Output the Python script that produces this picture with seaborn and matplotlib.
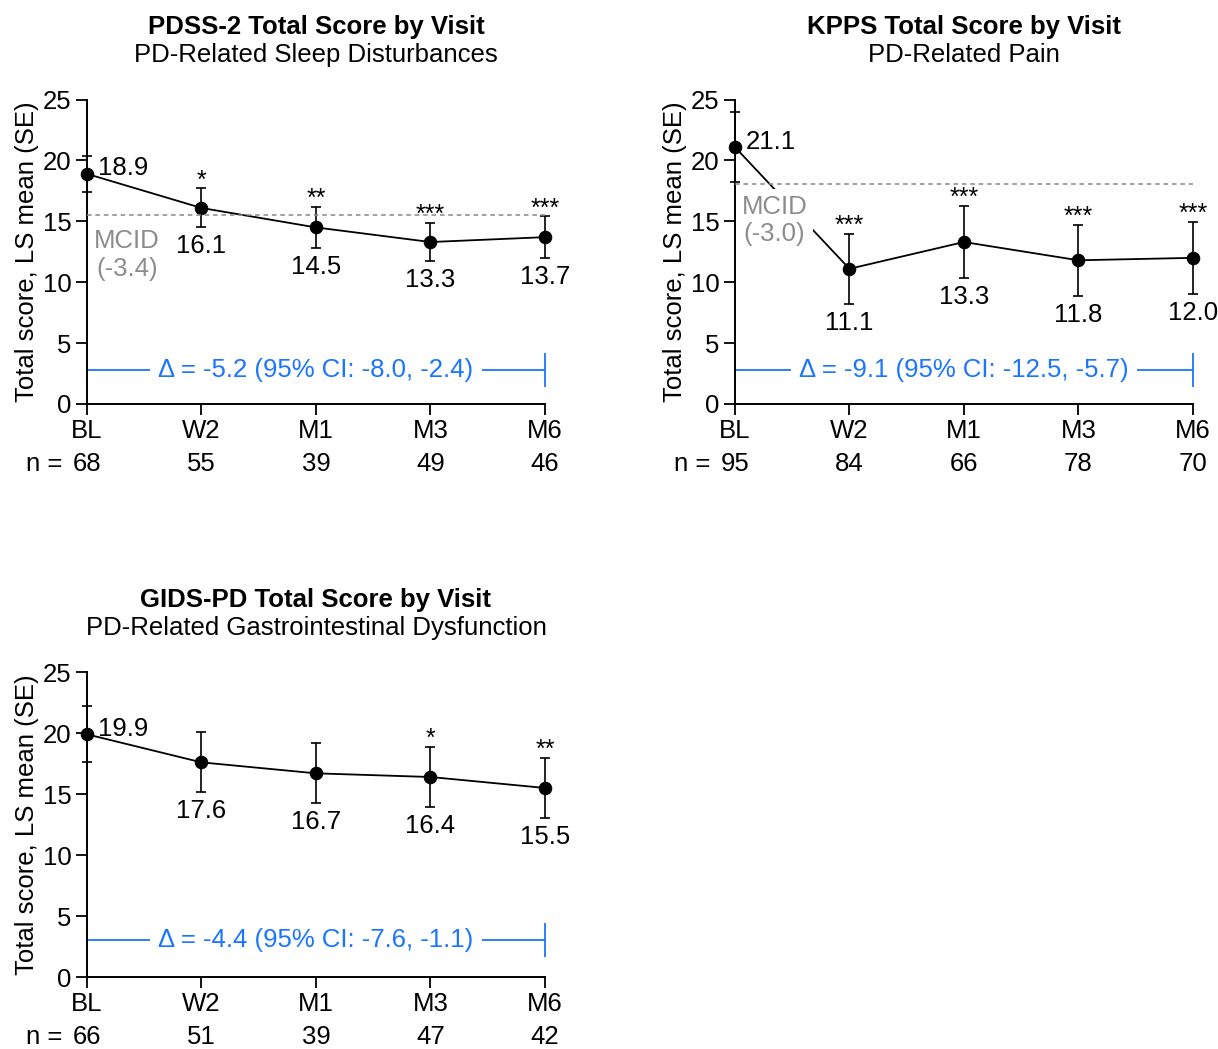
import numpy as np
import pandas as pd
import matplotlib.pyplot as plt
import seaborn as sns

# visits on the x axis
visits = ["BL", "W2", "M1", "M3", "M6"]

# PDSS-2
pdss_mean = [18.9, 16.1, 14.5, 13.3, 13.7]
pdss_se = [1.5, 1.6, 1.7, 1.6, 1.7]
pdss_n = [68, 55, 39, 49, 46]
pdss_stars = ["", "*", "**", "***", "***"]
pdss_delta = "Δ = -5.2 (95% CI: -8.0, -2.4)"
pdss_mcid = 3.4

# KPPS
kpps_mean = [21.1, 11.1, 13.3, 11.8, 12.0]
kpps_se = [2.9, 2.9, 2.95, 2.9, 2.95]
kpps_n = [95, 84, 66, 78, 70]
kpps_stars = ["", "***", "***", "***", "***"]
kpps_delta = "Δ = -9.1 (95% CI: -12.5, -5.7)"
kpps_mcid = 3.0

# GIDS-PD
gids_mean = [19.9, 17.6, 16.7, 16.4, 15.5]
gids_se = [2.3, 2.45, 2.45, 2.45, 2.45]
gids_n = [66, 51, 39, 47, 42]
gids_stars = ["", "", "", "*", "**"]
gids_delta = "Δ = -4.4 (95% CI: -7.6, -1.1)"

sns.set_theme(style="ticks")
plt.rcParams['font.family'] = ['Liberation Sans', 'DejaVu Sans']
plt.rcParams['text.color'] = 'black'
plt.rcParams['axes.labelcolor'] = 'black'
plt.rcParams['xtick.color'] = 'black'
plt.rcParams['ytick.color'] = 'black'

BLUE = "#1a75ff"
GREY = "#8c8c8c"
FS = 18.5


def draw(ax, title, subtitle, mean, se, n, stars, delta, delta_y, mcid=None, mcid_pos=None):
    x = np.arange(len(visits))
    df = pd.DataFrame({"visit": x, "mean": mean})
    sns.lineplot(data=df, x="visit", y="mean", color="black", lw=1.3, marker="o",
                 markersize=9, markeredgecolor="black", ax=ax, clip_on=False, zorder=2)
    eb = ax.errorbar(x, mean, yerr=se, fmt="none", ecolor="black", elinewidth=1.2,
                     capsize=3.5, capthick=1.2, zorder=2)
    for a in list(eb.lines[1]) + list(eb.lines[2]):
        a.set_clip_on(False)

    ax.set_xlim(0, 4)
    ax.set_ylim(0, 25)
    ax.set_xticks(x, visits)
    ax.set_yticks(range(0, 26, 5))
    ax.tick_params(length=8, width=1.3, labelsize=FS, pad=3, color="black")
    for s in ["top", "right"]:
        ax.spines[s].set_visible(False)
    for s in ["left", "bottom"]:
        ax.spines[s].set_linewidth(1.4)
        ax.spines[s].set_color("black")
    ax.set_xlabel("")
    ax.set_ylabel("Total score, LS mean (SE)", fontsize=FS, labelpad=3)

    # value labels
    for i in range(len(x)):
        if i == 0:
            ax.annotate(f"{mean[i]:.1f}", (x[i], mean[i]), xytext=(8, 4),
                        textcoords="offset points", ha="left", va="center", fontsize=FS)
        else:
            ax.annotate(f"{mean[i]:.1f}", (x[i], mean[i] - se[i]), xytext=(0, -5),
                        textcoords="offset points", ha="center", va="top", fontsize=FS)
        if stars[i]:
            ax.annotate(stars[i], (x[i], mean[i] + se[i]), xytext=(0, -3),
                        textcoords="offset points", ha="center", va="bottom", fontsize=18)

    # n row
    for i in range(len(x)):
        ax.annotate(str(n[i]), (x[i], 0), xycoords=("data", "axes fraction"),
                    xytext=(0, -43.5), textcoords="offset points", ha="center", va="center",
                    fontsize=FS, annotation_clip=False)
    ax.annotate("n =", (0, 0), xycoords=("data", "axes fraction"), xytext=(-18, -43.5),
                textcoords="offset points", ha="right", va="center", fontsize=FS,
                annotation_clip=False)

    # treatment difference
    ax.hlines(delta_y, 0, 4, color=BLUE, lw=1.3, zorder=1, clip_on=False)
    ax.plot([4], [delta_y], marker="|", markersize=24, mew=1.3, color=BLUE, clip_on=False)
    ax.text(2, delta_y, delta, color=BLUE, fontsize=FS, ha="center", va="center", zorder=3,
            bbox=dict(facecolor="white", edgecolor="none", pad=6))

    # MCID
    if mcid is not None:
        ax.axhline(mean[0] - mcid, color="#888888", lw=1.1, ls=(0, (3, 2.5)), zorder=4)
        ax.text(mcid_pos[0], mcid_pos[1], f"MCID\n(-{mcid:.1f})", color=GREY, fontsize=FS,
                ha="left", va="top", multialignment="center", zorder=3, linespacing=1.2,
                bbox=dict(facecolor="white", edgecolor="none", pad=4))

    ax.annotate(title, (0.5, 1), xycoords="axes fraction", xytext=(0, 52),
                textcoords="offset points", ha="center", va="center", fontsize=FS,
                fontweight="bold")
    ax.annotate(subtitle, (0.5, 1), xycoords="axes fraction", xytext=(0, 32),
                textcoords="offset points", ha="center", va="center", fontsize=FS)


fig = plt.figure(figsize=(12.18, 10.49), dpi=100)
ax1 = fig.add_axes([0.0714, 0.615, 0.376, 0.290])
ax2 = fig.add_axes([0.6034, 0.615, 0.376, 0.290])
ax3 = fig.add_axes([0.0714, 0.0686, 0.376, 0.2907])

draw(ax1, "PDSS-2 Total Score by Visit", "PD-Related Sleep Disturbances",
     pdss_mean, pdss_se, pdss_n, pdss_stars, pdss_delta, 2.8, pdss_mcid, (0.06, 14.35))
draw(ax2, "KPPS Total Score by Visit", "PD-Related Pain",
     kpps_mean, kpps_se, kpps_n, kpps_stars, kpps_delta, 2.8, kpps_mcid, (0.06, 17.2))
draw(ax3, "GIDS-PD Total Score by Visit", "PD-Related Gastrointestinal Dysfunction",
     gids_mean, gids_se, gids_n, gids_stars, gids_delta, 3.0)

fig.savefig("out.png", dpi=100)
